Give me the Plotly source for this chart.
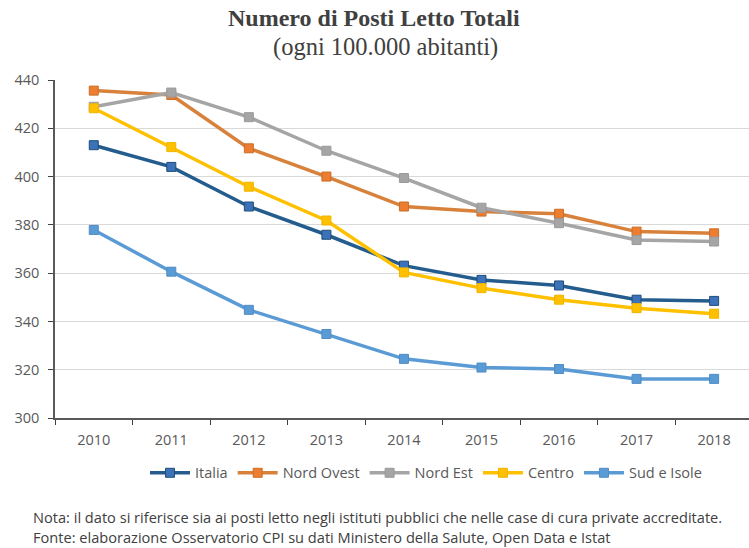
import plotly.graph_objects as go

years = ["2010", "2011", "2012", "2013", "2014", "2015", "2016", "2017", "2018"]

italia = [413, 404, 387.6, 375.9, 363.1, 357.2, 354.9, 349.0, 348.5]
nord_ovest = [435.6, 433.8, 411.7, 400.0, 387.6, 385.5, 384.6, 377.2, 376.5]
nord_est = [428.9, 434.8, 424.6, 410.7, 399.4, 387.1, 380.7, 373.7, 373.1]
centro = [428.3, 412.2, 395.8, 381.8, 360.3, 353.8, 349.0, 345.5, 343.2]
sud_isole = [377.9, 360.6, 344.8, 334.8, 324.5, 320.9, 320.3, 316.2, 316.2]

series = [
    ("Italia", italia, "#245C8D", "#3C73B8", "#1F4E79"),
    ("Nord Ovest", nord_ovest, "#D8813A", "#ED7D31", "#C96F28"),
    ("Nord Est", nord_est, "#A5A5A5", "#A5A5A5", "#9A9A9A"),
    ("Centro", centro, "#FFC000", "#FFC000", "#F0B400"),
    ("Sud e Isole", sud_isole, "#5B9BD5", "#5B9BD5", "#4F8CC6"),
]

fig = go.Figure()
for name, vals, line_col, fill_col, edge_col in series:
    fig.add_trace(go.Scatter(
        x=years, y=vals, name=name, mode="lines+markers",
        line=dict(color=line_col, width=3.5),
        marker=dict(symbol="square", size=9, color=fill_col,
                    line=dict(color=edge_col, width=1)),
    ))

PLOT_W = 694  # plot area width in px (749 - left margin)


def px_to_paper(px):
    return (px - 55) / PLOT_W


fig.update_layout(
    width=749, height=548,
    margin=dict(l=55, r=0, t=80, b=130),
    paper_bgcolor="white", plot_bgcolor="white",
    font=dict(family="Open Sans, DejaVu Sans, sans-serif", size=14, color="#595959"),
    showlegend=True,
    legend=dict(orientation="h", x=px_to_paper(426), xanchor="center", y=-0.115, yanchor="top",
                font=dict(size=14.5, color="#595959"), itemwidth=40, tracegroupgap=0),
    xaxis=dict(
        type="category", range=[-0.5, 8.45],
        showline=True, linecolor="#595959", linewidth=1.5,
        ticks="outside", tickson="boundaries", ticklen=5, tickcolor="#404040",
        ticklabelstandoff=8,
        showgrid=False, tickfont=dict(size=14.5, color="#595959"),
    ),
    yaxis=dict(
        range=[300, 440], dtick=20,
        showline=True, linecolor="#595959", linewidth=1.5,
        ticks="outside", ticklen=5, tickcolor="#404040",
        ticklabelstandoff=6,
        showgrid=True, gridcolor="#D9D9D9", gridwidth=1,
        zeroline=False, tickfont=dict(size=14.5, color="#595959"),
    ),
)

fig.add_annotation(
    text="<b>Numero di Posti Letto Totali</b>", xref="paper", yref="paper",
    x=px_to_paper(374), y=1, yshift=62, xanchor="center", yanchor="middle", showarrow=False,
    font=dict(family="Liberation Serif, DejaVu Serif, serif", size=24, color="#404040"),
)
fig.add_annotation(
    text="(ogni 100.000 abitanti)", xref="paper", yref="paper",
    x=px_to_paper(385), y=1, yshift=33, xanchor="center", yanchor="middle", showarrow=False,
    font=dict(family="Liberation Serif, DejaVu Serif, serif", size=24.5, color="#404040"),
)

note_font = dict(family="Open Sans, DejaVu Sans, sans-serif", size=14.6, color="#404040")
note_x = px_to_paper(31)
fig.add_annotation(
    text="Nota: il dato si riferisce sia ai posti letto negli istituti pubblici che nelle case di cura private accreditate.",
    xref="paper", yref="paper", x=note_x, y=0, yshift=-99,
    xanchor="left", yanchor="middle", showarrow=False, font=note_font,
)
fig.add_annotation(
    text="Fonte: elaborazione Osservatorio CPI su dati Ministero della Salute, Open Data e Istat",
    xref="paper", yref="paper", x=note_x, y=0, yshift=-119,
    xanchor="left", yanchor="middle", showarrow=False, font=note_font,
)

fig.write_html("out.html")
